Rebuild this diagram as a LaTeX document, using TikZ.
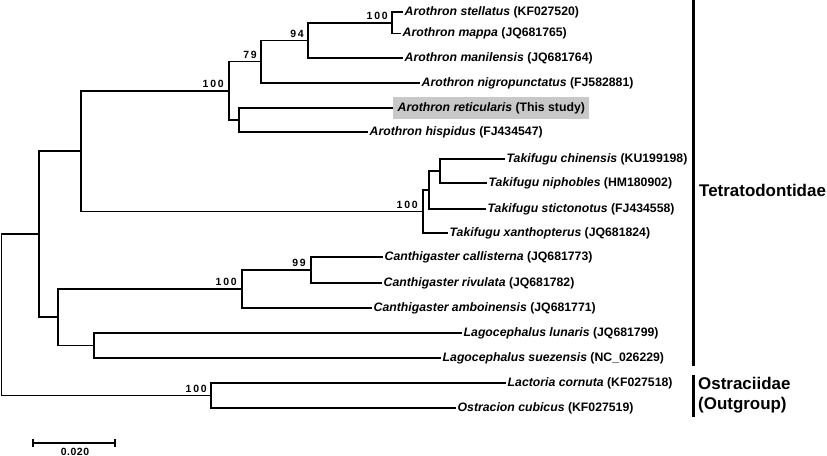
\documentclass[tikz,border=0pt]{standalone}
\usepackage{fontspec}
\setmainfont{Liberation Sans}
\definecolor{hl}{RGB}{200,200,200}
\newcommand\sk{\kern1.9bp}
\newcommand\skb{\kern0.5bp}
\newcommand\spc[2]{\textit{#1} #2}
\begin{document}
\begin{tikzpicture}[x=1bp,y=-1bp,
  edge/.style={line width=1.6bp,line join=miter},
  leaf/.style={anchor=west,inner xsep=1.5bp,inner ysep=0pt,font=\fontsize{12.3}{14}\selectfont\bfseries},
  sv/.style={anchor=south east,inner sep=0pt,font=\fontsize{10.5}{11}\selectfont\bfseries},
  grp/.style={anchor=west,inner sep=0pt,font=\fontsize{17}{20}\selectfont\bfseries,align=left},
  bar/.style={line width=3bp}]
\useasboundingbox (0,0) rectangle (827,456);

% internal nodes
\coordinate (nsm)  at (392,22.75);
\coordinate (n94)  at (308,40.4);
\coordinate (n79)  at (261,61.7);
\coordinate (nrh)  at (239,120);
\coordinate (naro) at (229,90.9);
\coordinate (ncn)  at (440,171);
\coordinate (ncns) at (429,190);
\coordinate (ntak) at (423,211.5);
\coordinate (nat)  at (81,151);
\coordinate (n99)  at (311,270);
\coordinate (ncan) at (242,289);
\coordinate (nlag) at (94,345.5);
\coordinate (ncl)  at (58,317);
\coordinate (nt)   at (39,234);
\coordinate (nout) at (211,395.5);
\coordinate (root) at (1.5,315);

% leaves
\node[leaf] (l1)  at (403,12)   {\spc{Arothron stellatus}{(KF027520)}};
\node[leaf] (l2)  at (401,33.5) {\spc{Arothron mappa}{(JQ681765)}};
\node[leaf] (l3)  at (403,58)   {\spc{Arothron manilensis}{(JQ681764)}};
\node[leaf] (l4)  at (420,83)   {\spc{Arothron nigropunctatus}{(FJ582881)}};
\node[leaf,fill=hl,inner xsep=4.5bp,minimum height=22bp] (l5) at (393,108) {\spc{Arothron reticularis}{(This study)}};
\node[leaf] (l6)  at (368,132)  {\spc{Arothron hispidus}{(FJ434547)}};
\node[leaf] (l7)  at (505,159)  {\spc{Takifugu chinensis}{(KU199198)}};
\node[leaf] (l8)  at (487,183)  {\spc{Takifugu niphobles}{(HM180902)}};
\node[leaf] (l9)  at (486,209)  {\spc{Takifugu stictonotus}{(FJ434558)}};
\node[leaf] (l10) at (448,233)  {\spc{Takifugu xanthopterus}{(JQ681824)}};
\node[leaf] (l11) at (383,257)  {\spc{Canthigaster callisterna}{(JQ681773)}};
\node[leaf] (l12) at (382,283)  {\spc{Canthigaster rivulata}{(JQ681782)}};
\node[leaf] (l13) at (372,308)  {\spc{Canthigaster amboinensis}{(JQ681771)}};
\node[leaf] (l14) at (462,333)  {\spc{Lagocephalus lunaris}{(JQ681799)}};
\node[leaf] (l15) at (441,358)  {\spc{Lagocephalus suezensis}{(NC\_026229)}};
\node[leaf] (l16) at (506,383)  {\spc{Lactoria cornuta}{(KF027518)}};
\node[leaf] (l17) at (456,408)  {\spc{Ostracion cubicus}{(KF027519)}};

% branches
\draw[edge] (nsm) |- (l1.west) (nsm) |- (l2.west);
\draw[edge] (n94) |- (nsm) (n94) |- (l3.west);
\draw[edge] (n79) |- (n94) (n79) |- (l4.west);
\draw[edge] (nrh) |- (l5.west) (nrh) |- (l6.west);
\draw[edge] (naro) |- (n79) (naro) |- (nrh);
\draw[edge] (ncn) |- (l7.west) (ncn) |- (l8.west);
\draw[edge] (ncns) |- (ncn) (ncns) |- (l9.west);
\draw[edge] (ntak) |- (ncns) (ntak) |- (l10.west);
\draw[edge] (nat) |- (naro) (nat) |- (ntak);
\draw[edge] (n99) |- (l11.west) (n99) |- (l12.west);
\draw[edge] (ncan) |- (n99) (ncan) |- (l13.west);
\draw[edge] (nlag) |- (l14.west) (nlag) |- (l15.west);
\draw[edge] (ncl) |- (ncan) (ncl) |- (nlag);
\draw[edge] (nt) |- (nat) (nt) |- (ncl);
\draw[edge] (nout) |- (l16.west) (nout) |- (l17.west);
\draw[edge] (root) |- (nt) (root) |- (nout);

% support values
\node[sv] (s1) at ([xshift=-4bp,yshift=3bp]nsm)  {1\sk0\sk0};
\node[sv] (s2) at ([xshift=-4bp,yshift=3bp]n94)  {9\sk4};
\node[sv] (s3) at ([xshift=-4bp,yshift=3bp]n79)  {7\sk9};
\node[sv] (s4) at ([xshift=-5bp,yshift=3bp]naro) {1\sk0\sk0};
\node[sv] (s5) at ([xshift=-5bp,yshift=3bp]ntak) {1\sk0\sk0};
\node[sv] (s6) at ([xshift=-5bp,yshift=3bp]n99)  {9\sk9};
\node[sv] (s7) at ([xshift=-5bp,yshift=3bp]ncan) {1\sk0\sk0};
\node[sv] (s8) at ([xshift=-4bp,yshift=3bp]nout) {1\sk0\sk0};

% group brackets
\coordinate (tb1) at (693,0);
\coordinate (tb2) at (693,366);
\coordinate (ob1) at (693,375);
\coordinate (ob2) at (693,417);
\draw[bar] (tb1) -- (tb2);
\draw[bar] (ob1) -- (ob2);
\node[grp] (gT) at (699,190) {Tetratodontidae};
\node[grp] (gO) at (698,395) {Ostraciidae\\(Outgroup)};

% scale bar
\coordinate (sb1) at (33,443);
\coordinate (sb2) at (115,443);
\draw[edge] (sb1) -- (sb2);
\draw[edge] ([yshift=4bp]sb1) -- ([yshift=-4bp]sb1);
\draw[edge] ([yshift=4bp]sb2) -- ([yshift=-4bp]sb2);
\node[sv,anchor=center] (sbl) at (75,451.5) {0\skb.\skb0\skb2\skb0};
\end{tikzpicture}
\end{document}
